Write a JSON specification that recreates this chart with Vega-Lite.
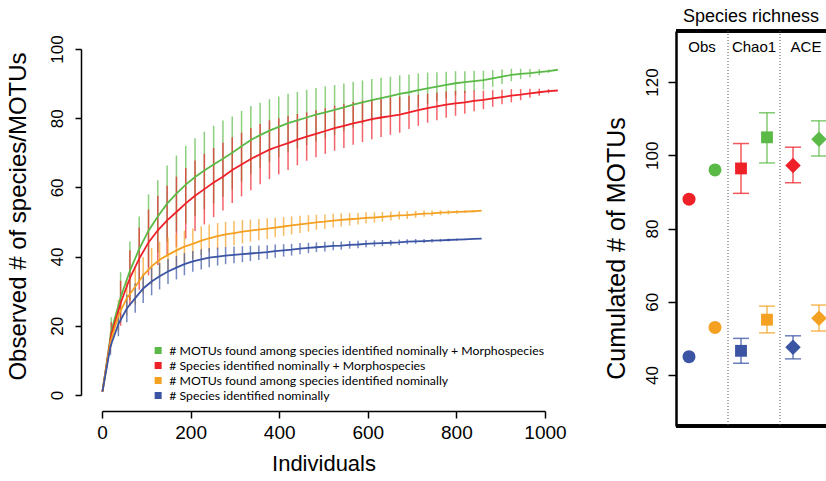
{
"$schema":"https://vega.github.io/schema/vega-lite/v6.json",
"padding":{"left":6,"top":7,"right":0,"bottom":0},
"bounds":"flush",
"spacing":131,
"datasets":{
"curves":[
{"s":"g","n":1,"v":1,"lo":1,"hi":1},{"s":"g","n":21,"v":18.5,"lo":14.5,"hi":22.5},{"s":"g","n":42,"v":28.2,"lo":20.9,"hi":35.5},{"s":"g","n":63,"v":35.9,"lo":27.4,"hi":44.4},{"s":"g","n":84,"v":42.2,"lo":32.8,"hi":51.6},{"s":"g","n":105,"v":47.5,"lo":37.0,"hi":58.0},{"s":"g","n":126,"v":51.6,"lo":41.1,"hi":62.1},{"s":"g","n":147,"v":55.3,"lo":44.3,"hi":66.3},{"s":"g","n":168,"v":58.2,"lo":47.2,"hi":69.2},{"s":"g","n":189,"v":60.8,"lo":49.6,"hi":72.0},{"s":"g","n":210,"v":63.0,"lo":51.8,"hi":74.2},{"s":"g","n":231,"v":64.9,"lo":53.7,"hi":76.1},{"s":"g","n":252,"v":66.6,"lo":55.4,"hi":77.8},{"s":"g","n":273,"v":68.3,"lo":57.3,"hi":79.3},{"s":"g","n":294,"v":70.0,"lo":59.5,"hi":80.5},{"s":"g","n":315,"v":71.9,"lo":61.7,"hi":82.1},{"s":"g","n":336,"v":73.7,"lo":63.9,"hi":83.5},{"s":"g","n":357,"v":75.1,"lo":65.7,"hi":84.5},{"s":"g","n":378,"v":76.4,"lo":67.3,"hi":85.5},{"s":"g","n":399,"v":77.5,"lo":68.7,"hi":86.3},{"s":"g","n":420,"v":78.6,"lo":70.1,"hi":87.1},{"s":"g","n":441,"v":79.4,"lo":71.2,"hi":87.6},{"s":"g","n":462,"v":80.2,"lo":72.2,"hi":88.2},{"s":"g","n":483,"v":81.0,"lo":73.3,"hi":88.7},{"s":"g","n":504,"v":81.7,"lo":74.2,"hi":89.2},{"s":"g","n":525,"v":82.4,"lo":75.2,"hi":89.6},{"s":"g","n":546,"v":83.1,"lo":76.2,"hi":90.0},{"s":"g","n":567,"v":83.9,"lo":77.3,"hi":90.5},{"s":"g","n":588,"v":84.6,"lo":78.3,"hi":90.9},{"s":"g","n":609,"v":85.2,"lo":79.1,"hi":91.3},{"s":"g","n":630,"v":85.8,"lo":79.9,"hi":91.7},{"s":"g","n":651,"v":86.4,"lo":80.8,"hi":92.0},{"s":"g","n":672,"v":87.0,"lo":81.6,"hi":92.4},{"s":"g","n":693,"v":87.5,"lo":82.4,"hi":92.6},{"s":"g","n":714,"v":88.1,"lo":83.3,"hi":92.9},{"s":"g","n":735,"v":88.6,"lo":84.0,"hi":93.2},{"s":"g","n":756,"v":89.1,"lo":84.9,"hi":93.3},{"s":"g","n":777,"v":89.6,"lo":85.8,"hi":93.4},{"s":"g","n":798,"v":90.1,"lo":86.6,"hi":93.6},{"s":"g","n":819,"v":90.4,"lo":87.2,"hi":93.6},{"s":"g","n":840,"v":90.7,"lo":87.7,"hi":93.7},{"s":"g","n":861,"v":91.0,"lo":88.3,"hi":93.7},{"s":"g","n":882,"v":91.5,"lo":89.1,"hi":93.9},{"s":"g","n":903,"v":92.0,"lo":89.9,"hi":94.1},{"s":"g","n":924,"v":92.5,"lo":90.7,"hi":94.3},{"s":"g","n":945,"v":92.8,"lo":91.3,"hi":94.3},{"s":"g","n":966,"v":93.0,"lo":91.8,"hi":94.2},{"s":"g","n":987,"v":93.3,"lo":92.4,"hi":94.2},{"s":"g","n":1008,"v":93.6,"lo":93.1,"hi":94.1},{"s":"g","n":1029,"v":94.0,"lo":94.0,"hi":94.0},
{"s":"r","n":1,"v":1,"lo":1,"hi":1},{"s":"r","n":21,"v":17.5,"lo":14.0,"hi":21.0},{"s":"r","n":42,"v":26.5,"lo":20.0,"hi":33.0},{"s":"r","n":63,"v":33.8,"lo":25.8,"hi":41.8},{"s":"r","n":84,"v":39.4,"lo":30.4,"hi":48.4},{"s":"r","n":105,"v":44.1,"lo":34.6,"hi":53.6},{"s":"r","n":126,"v":47.6,"lo":37.6,"hi":57.6},{"s":"r","n":147,"v":50.5,"lo":40.5,"hi":60.5},{"s":"r","n":168,"v":52.9,"lo":42.7,"hi":63.1},{"s":"r","n":189,"v":55.4,"lo":45.2,"hi":65.6},{"s":"r","n":210,"v":57.6,"lo":47.4,"hi":67.8},{"s":"r","n":231,"v":59.5,"lo":49.3,"hi":69.7},{"s":"r","n":252,"v":61.4,"lo":51.4,"hi":71.4},{"s":"r","n":273,"v":63.1,"lo":53.3,"hi":72.9},{"s":"r","n":294,"v":65.0,"lo":55.5,"hi":74.5},{"s":"r","n":315,"v":66.6,"lo":57.4,"hi":75.8},{"s":"r","n":336,"v":68.2,"lo":59.2,"hi":77.2},{"s":"r","n":357,"v":69.6,"lo":60.9,"hi":78.3},{"s":"r","n":378,"v":70.9,"lo":62.4,"hi":79.4},{"s":"r","n":399,"v":71.9,"lo":63.8,"hi":80.0},{"s":"r","n":420,"v":72.8,"lo":65.0,"hi":80.6},{"s":"r","n":441,"v":73.8,"lo":66.4,"hi":81.2},{"s":"r","n":462,"v":74.7,"lo":67.7,"hi":81.7},{"s":"r","n":483,"v":75.5,"lo":68.7,"hi":82.3},{"s":"r","n":504,"v":76.3,"lo":69.7,"hi":82.9},{"s":"r","n":525,"v":77.1,"lo":70.6,"hi":83.6},{"s":"r","n":546,"v":77.8,"lo":71.4,"hi":84.2},{"s":"r","n":567,"v":78.5,"lo":72.3,"hi":84.7},{"s":"r","n":588,"v":79.1,"lo":73.1,"hi":85.1},{"s":"r","n":609,"v":79.7,"lo":73.9,"hi":85.5},{"s":"r","n":630,"v":80.2,"lo":74.6,"hi":85.8},{"s":"r","n":651,"v":80.6,"lo":75.2,"hi":86.0},{"s":"r","n":672,"v":81.0,"lo":75.8,"hi":86.2},{"s":"r","n":693,"v":81.7,"lo":76.9,"hi":86.5},{"s":"r","n":714,"v":82.3,"lo":77.8,"hi":86.8},{"s":"r","n":735,"v":82.9,"lo":78.7,"hi":87.1},{"s":"r","n":756,"v":83.4,"lo":79.4,"hi":87.4},{"s":"r","n":777,"v":83.9,"lo":80.1,"hi":87.7},{"s":"r","n":798,"v":84.3,"lo":80.7,"hi":87.9},{"s":"r","n":819,"v":84.6,"lo":81.3,"hi":87.9},{"s":"r","n":840,"v":85.0,"lo":82.0,"hi":88.0},{"s":"r","n":861,"v":85.3,"lo":82.6,"hi":88.0},{"s":"r","n":882,"v":85.7,"lo":83.3,"hi":88.1},{"s":"r","n":903,"v":86.1,"lo":84.0,"hi":88.2},{"s":"r","n":924,"v":86.5,"lo":84.6,"hi":88.4},{"s":"r","n":945,"v":86.8,"lo":85.2,"hi":88.4},{"s":"r","n":966,"v":87.2,"lo":85.9,"hi":88.5},{"s":"r","n":987,"v":87.5,"lo":86.5,"hi":88.5},{"s":"r","n":1008,"v":87.8,"lo":87.2,"hi":88.4},{"s":"r","n":1029,"v":88.0,"lo":88.0,"hi":88.0},
{"s":"o","n":1,"v":1,"lo":1,"hi":1},{"s":"o","n":19,"v":15.2,"lo":12.2,"hi":18.2},{"s":"o","n":37,"v":23.0,"lo":18.5,"hi":27.5},{"s":"o","n":56,"v":28.0,"lo":23.0,"hi":33.0},{"s":"o","n":75,"v":31.3,"lo":26.1,"hi":36.5},{"s":"o","n":93,"v":34.6,"lo":29.3,"hi":39.9},{"s":"o","n":112,"v":37.2,"lo":31.9,"hi":42.5},{"s":"o","n":130,"v":39.1,"lo":33.9,"hi":44.3},{"s":"o","n":149,"v":40.5,"lo":35.5,"hi":45.5},{"s":"o","n":168,"v":41.8,"lo":37.0,"hi":46.6},{"s":"o","n":186,"v":42.9,"lo":38.3,"hi":47.5},{"s":"o","n":205,"v":43.7,"lo":39.3,"hi":48.1},{"s":"o","n":224,"v":44.6,"lo":40.4,"hi":48.8},{"s":"o","n":242,"v":45.3,"lo":41.3,"hi":49.3},{"s":"o","n":261,"v":45.9,"lo":42.1,"hi":49.7},{"s":"o","n":279,"v":46.4,"lo":42.8,"hi":50.0},{"s":"o","n":298,"v":46.8,"lo":43.3,"hi":50.3},{"s":"o","n":317,"v":47.2,"lo":43.8,"hi":50.6},{"s":"o","n":335,"v":47.5,"lo":44.3,"hi":50.7},{"s":"o","n":354,"v":47.8,"lo":44.7,"hi":50.9},{"s":"o","n":373,"v":48.1,"lo":45.1,"hi":51.1},{"s":"o","n":391,"v":48.4,"lo":45.6,"hi":51.2},{"s":"o","n":410,"v":48.7,"lo":46.0,"hi":51.4},{"s":"o","n":428,"v":49.0,"lo":46.4,"hi":51.6},{"s":"o","n":447,"v":49.3,"lo":46.8,"hi":51.8},{"s":"o","n":466,"v":49.6,"lo":47.2,"hi":52.0},{"s":"o","n":484,"v":49.9,"lo":47.7,"hi":52.1},{"s":"o","n":503,"v":50.1,"lo":48.0,"hi":52.2},{"s":"o","n":522,"v":50.4,"lo":48.4,"hi":52.4},{"s":"o","n":540,"v":50.6,"lo":48.7,"hi":52.5},{"s":"o","n":559,"v":50.8,"lo":49.0,"hi":52.6},{"s":"o","n":578,"v":51.0,"lo":49.3,"hi":52.7},{"s":"o","n":596,"v":51.2,"lo":49.6,"hi":52.8},{"s":"o","n":615,"v":51.3,"lo":49.8,"hi":52.8},{"s":"o","n":633,"v":51.5,"lo":50.1,"hi":52.9},{"s":"o","n":652,"v":51.7,"lo":50.4,"hi":53.0},{"s":"o","n":671,"v":51.9,"lo":50.7,"hi":53.1},{"s":"o","n":689,"v":52.0,"lo":50.9,"hi":53.1},{"s":"o","n":708,"v":52.2,"lo":51.2,"hi":53.2},{"s":"o","n":727,"v":52.4,"lo":51.5,"hi":53.3},{"s":"o","n":745,"v":52.5,"lo":51.7,"hi":53.3},{"s":"o","n":764,"v":52.7,"lo":52.0,"hi":53.4},{"s":"o","n":782,"v":52.8,"lo":52.2,"hi":53.4},{"s":"o","n":801,"v":52.9,"lo":52.4,"hi":53.4},{"s":"o","n":820,"v":53.0,"lo":52.6,"hi":53.4},{"s":"o","n":838,"v":53.1,"lo":52.8,"hi":53.4},{"s":"o","n":857,"v":53.3,"lo":53.3,"hi":53.3},
{"s":"b","n":1,"v":1,"lo":1,"hi":1},{"s":"b","n":19,"v":14.0,"lo":11.5,"hi":16.5},{"s":"b","n":37,"v":20.5,"lo":17.0,"hi":24.0},{"s":"b","n":56,"v":25.0,"lo":21.0,"hi":29.0},{"s":"b","n":75,"v":28.0,"lo":23.8,"hi":32.2},{"s":"b","n":93,"v":30.8,"lo":26.6,"hi":35.0},{"s":"b","n":112,"v":32.8,"lo":28.8,"hi":36.8},{"s":"b","n":130,"v":34.3,"lo":30.5,"hi":38.1},{"s":"b","n":149,"v":35.7,"lo":32.1,"hi":39.3},{"s":"b","n":168,"v":36.8,"lo":33.4,"hi":40.2},{"s":"b","n":186,"v":37.8,"lo":34.6,"hi":41.0},{"s":"b","n":205,"v":38.6,"lo":35.6,"hi":41.6},{"s":"b","n":224,"v":39.2,"lo":36.3,"hi":42.1},{"s":"b","n":242,"v":39.7,"lo":36.9,"hi":42.5},{"s":"b","n":261,"v":40.0,"lo":37.4,"hi":42.6},{"s":"b","n":279,"v":40.3,"lo":37.8,"hi":42.8},{"s":"b","n":298,"v":40.5,"lo":38.1,"hi":42.9},{"s":"b","n":317,"v":40.7,"lo":38.4,"hi":43.0},{"s":"b","n":335,"v":40.9,"lo":38.7,"hi":43.1},{"s":"b","n":354,"v":41.1,"lo":39.0,"hi":43.2},{"s":"b","n":373,"v":41.3,"lo":39.3,"hi":43.3},{"s":"b","n":391,"v":41.6,"lo":39.7,"hi":43.5},{"s":"b","n":410,"v":41.8,"lo":40.0,"hi":43.6},{"s":"b","n":428,"v":42.0,"lo":40.3,"hi":43.7},{"s":"b","n":447,"v":42.3,"lo":40.7,"hi":43.9},{"s":"b","n":466,"v":42.5,"lo":41.0,"hi":44.0},{"s":"b","n":484,"v":42.7,"lo":41.3,"hi":44.1},{"s":"b","n":503,"v":42.9,"lo":41.5,"hi":44.3},{"s":"b","n":522,"v":43.1,"lo":41.8,"hi":44.4},{"s":"b","n":540,"v":43.2,"lo":42.0,"hi":44.4},{"s":"b","n":559,"v":43.4,"lo":42.3,"hi":44.5},{"s":"b","n":578,"v":43.5,"lo":42.4,"hi":44.6},{"s":"b","n":596,"v":43.7,"lo":42.7,"hi":44.7},{"s":"b","n":615,"v":43.8,"lo":42.9,"hi":44.7},{"s":"b","n":633,"v":43.9,"lo":43.0,"hi":44.8},{"s":"b","n":652,"v":44.0,"lo":43.2,"hi":44.8},{"s":"b","n":671,"v":44.1,"lo":43.3,"hi":44.9},{"s":"b","n":689,"v":44.3,"lo":43.6,"hi":45.0},{"s":"b","n":708,"v":44.4,"lo":43.7,"hi":45.1},{"s":"b","n":727,"v":44.5,"lo":43.9,"hi":45.1},{"s":"b","n":745,"v":44.6,"lo":44.1,"hi":45.1},{"s":"b","n":764,"v":44.7,"lo":44.3,"hi":45.1},{"s":"b","n":782,"v":44.8,"lo":44.4,"hi":45.2},{"s":"b","n":801,"v":44.9,"lo":44.6,"hi":45.2},{"s":"b","n":820,"v":45.0,"lo":44.8,"hi":45.2},{"s":"b","n":838,"v":45.1,"lo":45.0,"hi":45.2},{"s":"b","n":857,"v":45.2,"lo":45.2,"hi":45.2}
],
"rich":[
{"m":"Obs","k":"Species","s":"r","v":88},
{"m":"Obs","k":"Species","s":"b","v":45},
{"m":"Obs","k":"MOTUs","s":"g","v":96},
{"m":"Obs","k":"MOTUs","s":"o","v":53},
{"m":"Chao1","k":"Species","s":"r","v":96.4,"lo":89.6,"hi":103.2},
{"m":"Chao1","k":"Species","s":"b","v":46.6,"lo":43.2,"hi":50.0},
{"m":"Chao1","k":"MOTUs","s":"g","v":104.9,"lo":97.9,"hi":111.6},
{"m":"Chao1","k":"MOTUs","s":"o","v":55.1,"lo":51.5,"hi":58.8},
{"m":"ACE","k":"Species","s":"r","v":97.2,"lo":92.5,"hi":102.2},
{"m":"ACE","k":"Species","s":"b","v":47.6,"lo":44.4,"hi":50.7},
{"m":"ACE","k":"MOTUs","s":"g","v":104.4,"lo":99.8,"hi":109.4},
{"m":"ACE","k":"MOTUs","s":"o","v":55.5,"lo":52.0,"hi":59.1}
]
},
"hconcat":[
{
"width":443,"height":380,
"data":{"name":"curves"},
"encoding":{
"x":{"field":"n","type":"quantitative","scale":{"domain":[0,1000],"nice":false,"zero":false},
"axis":{"values":[0,200,400,600,800,1000],"format":"d","tickSize":7,"tickWidth":1.5,"domainWidth":1.5,"labelFontSize":19,"labelPadding":5,"labelFlush":false,"labelOverlap":false,"title":"Individuals","titleFontSize":22,"titlePadding":11}},
"color":{"field":"s","type":"nominal","scale":{"domain":["g","r","o","b"],"range":["#5BBA47","#EE2129","#F4A020","#3B54A4"]},
"legend":{"orient":"none","legendX":50,"legendY":313,"title":null,"symbolType":"square","symbolSize":1,"symbolStrokeWidth":6,"symbolOpacity":1,"clipHeight":13,"labelFont":"Lato","labelFontSize":12.3,"labelColor":"black","labelLimit":600,"rowPadding":2,"labelOffset":5,
"labelExpr":"datum.value == 'g' ? '# MOTUs found among species identified nominally + Morphospecies' : datum.value == 'r' ? '# Species identified nominally + Morphospecies' : datum.value == 'o' ? '# MOTUs found among species identified nominally' : '# Species identified nominally'"}}
},
"layer":[
{"mark":{"type":"rule","strokeWidth":1.5,"opacity":0.7},
"encoding":{"y":{"field":"lo","type":"quantitative","title":"Observed # of species/MOTUs"},"y2":{"field":"hi"}}},
{"mark":{"type":"line","strokeWidth":1.8},
"encoding":{"y":{"field":"v","type":"quantitative","scale":{"domain":[0,100],"nice":false,"zero":false,"range":[364,18]},
"axis":{"values":[0,20,40,60,80,100],"offset":21,"tickSize":6,"tickWidth":1.5,"domainWidth":1.5,"labelAngle":270,"labelAlign":"center","labelBaseline":"bottom","labelFontSize":17,"labelPadding":9,"labelOverlap":false,"title":"Observed # of species/MOTUs","titleFontSize":24,"titlePadding":18,"titleY":185}}}}
]
},
{
"width":150,"height":395,
"title":{"text":"Species richness","anchor":"start","frame":"group","dx":7,"fontSize":18,"fontWeight":"normal","font":"Liberation Sans","offset":4,"color":"black"},
"data":{"name":"rich"},
"encoding":{
"x":{"field":"m","type":"nominal","scale":{"domain":["Obs","Chao1","ACE"],"range":[0,156],"paddingInner":0,"paddingOuter":0},"axis":null}
},
"layer":[
{"mark":{"type":"rule","strokeWidth":2.5,"color":"black"},
"encoding":{"x":null,"y":{"datum":133.93,"type":"quantitative"}}},
{"mark":{"type":"rule","strokeWidth":2.5,"color":"black"},
"encoding":{"x":null,"y":{"datum":26.07,"type":"quantitative"}}},
{"transform":[{"filter":"datum.lo != null && datum.s == 'r'"}],
"mark":{"type":"rule","strokeDash":[1,2],"color":"#555555","strokeWidth":1},
"encoding":{"x":{"field":"m","type":"nominal","bandPosition":0}}},
{"transform":[{"filter":"datum.s == 'r'"}],
"mark":{"type":"text","fontSize":15,"font":"Liberation Sans","color":"black","baseline":"middle"},
"encoding":{"y":{"datum":129.6,"type":"quantitative"},"text":{"field":"m"}}},
{"transform":[{"filter":"datum.lo != null"}],
"mark":{"type":"rule","strokeWidth":1.5,"opacity":0.75,"clip":true},
"encoding":{"xOffset":{"field":"k","type":"nominal","scale":{"domain":["Species","MOTUs"],"paddingInner":0,"paddingOuter":0}},
"y":{"field":"lo","type":"quantitative","title":"Cumulated # of MOTUs"},"y2":{"field":"hi"},
"color":{"field":"s","type":"nominal","scale":{"domain":["g","r","o","b"],"range":["#5BBA47","#EE2129","#F4A020","#3B54A4"]},"legend":null}}},
{"transform":[{"filter":"datum.lo != null"}],
"mark":{"type":"tick","orient":"horizontal","size":16,"thickness":1.5,"opacity":0.75,"clip":true},
"encoding":{"xOffset":{"field":"k","type":"nominal"},
"y":{"field":"lo","type":"quantitative","title":"Cumulated # of MOTUs"},
"color":{"field":"s","type":"nominal","legend":null}}},
{"transform":[{"filter":"datum.lo != null"}],
"mark":{"type":"tick","orient":"horizontal","size":16,"thickness":1.5,"opacity":0.75,"clip":true},
"encoding":{"xOffset":{"field":"k","type":"nominal"},
"y":{"field":"hi","type":"quantitative","title":"Cumulated # of MOTUs"},
"color":{"field":"s","type":"nominal","legend":null}}},
{"transform":[{"filter":"datum.m == 'Obs'"}],
"mark":{"type":"point","shape":"circle","size":169,"filled":true,"opacity":1,"clip":true},
"encoding":{"xOffset":{"field":"k","type":"nominal"},
"y":{"field":"v","type":"quantitative","title":"Cumulated # of MOTUs"},
"color":{"field":"s","type":"nominal","legend":null}}},
{"transform":[{"filter":"datum.m == 'Chao1'"}],
"mark":{"type":"point","shape":"square","size":140,"filled":true,"opacity":1,"clip":true},
"encoding":{"xOffset":{"field":"k","type":"nominal"},
"y":{"field":"v","type":"quantitative","title":"Cumulated # of MOTUs"},
"color":{"field":"s","type":"nominal","legend":null}}},
{"transform":[{"filter":"datum.m == 'ACE'"}],
"mark":{"type":"point","shape":"diamond","size":240,"filled":true,"opacity":1,"clip":true},
"encoding":{
"xOffset":{"field":"k","type":"nominal"},
"y":{"field":"v","type":"quantitative","scale":{"domain":[26.07,133.93],"nice":false,"zero":false},
"axis":{"values":[40,60,80,100,120],"tickSize":8,"tickWidth":1.5,"domainWidth":2.5,"labelAngle":270,"labelAlign":"center","labelBaseline":"bottom","labelFontSize":17,"labelPadding":7,"title":"Cumulated # of MOTUs","titleFontSize":25,"titlePadding":14,"titleY":217}},
"color":{"field":"s","type":"nominal","legend":null}}}
]
}
],
"resolve":{"scale":{"color":"independent"}},
"config":{"view":{"stroke":null},"font":"Liberation Sans","axis":{"domainColor":"black","tickColor":"black","labelColor":"black","titleColor":"black","titleFontWeight":"normal","grid":false,"titleFont":"Liberation Sans","labelFont":"Liberation Sans"}}
}
